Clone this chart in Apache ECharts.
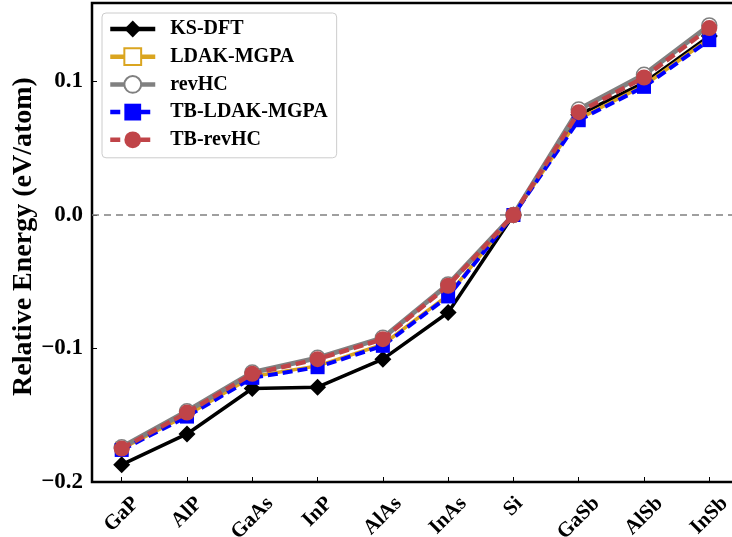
<!DOCTYPE html>
<html>
<head>
<meta charset="utf-8">
<script src="https://cdn.jsdelivr.net/npm/echarts@6/dist/echarts.min.js"></script>
<style>
  html, body { margin: 0; padding: 0; background: #fff; }
  #main { width: 732px; height: 537px; }
</style>
</head>
<body>
<div id="main"></div>
<script type="text/javascript">
  // 数据
  var materials = ['GaP', 'AlP', 'GaAs', 'InP', 'AlAs', 'InAs', 'Si', 'GaSb', 'AlSb', 'InSb'];
  var ksDft     = [-0.187, -0.164, -0.130, -0.129, -0.108, -0.073, 0, 0.075, 0.099, 0.134];
  var ldakMgpa  = [-0.175, -0.150, -0.121, -0.113, -0.097, -0.060, 0, 0.072, 0.097, 0.132];
  var revHC     = [-0.174, -0.147, -0.118, -0.107, -0.092, -0.052, 0, 0.079, 0.105, 0.142];
  var tbLdak    = [-0.176, -0.151, -0.122, -0.114, -0.098, -0.061, 0, 0.071, 0.096, 0.131];
  var tbRevHC   = [-0.175, -0.148, -0.119, -0.108, -0.093, -0.053, 0, 0.077, 0.103, 0.140];
  var yTicks    = [-0.2, -0.1, 0.0, 0.1];

  var serif = '"Liberation Serif", "Times New Roman", serif';
  var xFont = 21;

  function pairs(arr) {
    return arr.map(function (v, i) { return [i, v]; });
  }

  // 旋转45°的标签：按宽度把文字往下挪，让它水平居中于刻度
  var ctx = document.createElement('canvas').getContext('2d');
  ctx.font = 'bold ' + xFont + 'px ' + serif;
  var rich = {};
  materials.forEach(function (m, i) {
    var w = ctx.measureText(m).width;
    var H = (w + xFont) / Math.SQRT2;
    var s = 11 + H / 2;
    var p = Math.SQRT2 * s;
    rich['l' + i] = {
      fontFamily: serif, fontWeight: 'bold', fontSize: xFont, color: '#000',
      padding: [p, p, 0, 0]
    };
  });

  var option = {
    animation: false,
    grid: {
      left: 92, top: 3, width: 647, height: 479,
      outerBoundsMode: 'none', containLabel: false,
      show: true, borderColor: '#000', borderWidth: 2.5, backgroundColor: 'transparent'
    },
    legend: {
      left: 102, top: 13, orient: 'vertical',
      itemWidth: 45, itemHeight: 21, itemGap: 7.7,
      padding: [6, 9, 8, 6],
      borderColor: '#cccccc', borderWidth: 1, borderRadius: 4,
      backgroundColor: 'rgba(255,255,255,0.8)',
      lineStyle: { width: 4.5 },
      textStyle: { fontFamily: serif, fontWeight: 'bold', fontSize: 20, color: '#000', padding: [0, 0, 0, 10] },
      data: ['KS-DFT', 'LDAK-MGPA', 'revHC', 'TB-LDAK-MGPA', 'TB-revHC']
    },
    xAxis: {
      type: 'value', min: -0.455, max: 9.455,
      axisLine: { show: false, onZero: false },
      splitLine: { show: false },
      axisTick: { show: true, inside: true, length: 5, customValues: materials.map(function (m, i) { return i; }),
                  lineStyle: { color: '#000', width: 1 } },
      axisLabel: {
        customValues: materials.map(function (m, i) { return i; }),
        rotate: 45, margin: 0, align: 'center', verticalAlign: 'middle',
        fontFamily: serif, fontWeight: 'bold', fontSize: xFont, color: '#000',
        formatter: function (v) {
          var i = Math.round(v);
          return '{l' + i + '|' + materials[i] + '}';
        },
        rich: rich
      }
    },
    yAxis: {
      type: 'value', min: yTicks[0], max: 0.1588, interval: 0.1,
      name: 'Relative Energy (eV/atom)', nameLocation: 'middle', nameGap: 54,
      nameMoveOverlap: false,
      nameTextStyle: { fontFamily: serif, fontWeight: 'bold', fontSize: 28, color: '#000', padding: [0, 0, 0, 12] },
      axisLine: { show: false, onZero: false },
      splitLine: { show: false },
      axisTick: { show: true, inside: true, length: 5, lineStyle: { color: '#000', width: 1 } },
      axisLabel: {
        showMaxLabel: false, margin: 9,
        fontFamily: serif, fontWeight: 'bold', fontSize: 23, color: '#000',
        formatter: function (v) {
          if (Math.abs(v) < 1e-9) return '0.0';
          return (v < 0 ? '\u2212' : '') + Math.abs(v).toFixed(1);
        }
      }
    },
    series: [
      {
        name: 'KS-DFT', type: 'line', data: pairs(ksDft), z: 2,
        symbol: 'diamond', symbolSize: 17,
        lineStyle: { color: '#000', width: 3.5 },
        itemStyle: { color: '#000' },
        markLine: {
          silent: true, symbol: 'none', label: { show: false }, z: 1,
          lineStyle: { color: '#808080', type: [7, 5], width: 1.6 },
          data: [{ yAxis: 0 }]
        }
      },
      {
        name: 'LDAK-MGPA', type: 'line', data: pairs(ldakMgpa), z: 3,
        symbol: 'rect', symbolSize: 12,
        lineStyle: { color: '#DAA520', width: 3.5 },
        itemStyle: { color: '#fff', borderColor: '#DAA520', borderWidth: 1.5 }
      },
      {
        name: 'revHC', type: 'line', data: pairs(revHC), z: 4,
        symbol: 'circle', symbolSize: 15,
        lineStyle: { color: '#808080', width: 5 },
        itemStyle: { color: '#fff', borderColor: '#808080', borderWidth: 1.5 }
      },
      {
        name: 'TB-LDAK-MGPA', type: 'line', data: pairs(tbLdak), z: 5,
        symbol: 'rect', symbolSize: 14,
        lineStyle: { color: '#0000FF', width: 4, type: [10, 5] },
        itemStyle: { color: '#0000FF' }
      },
      {
        name: 'TB-revHC', type: 'line', data: pairs(tbRevHC), z: 6,
        symbol: 'circle', symbolSize: 16,
        lineStyle: { color: '#C04448', width: 4.5, type: [10, 5] },
        itemStyle: { color: '#C04448' }
      }
    ]
  };

  var myChart = echarts.init(document.getElementById('main'));
  myChart.setOption(option);
</script>
</body>
</html>
